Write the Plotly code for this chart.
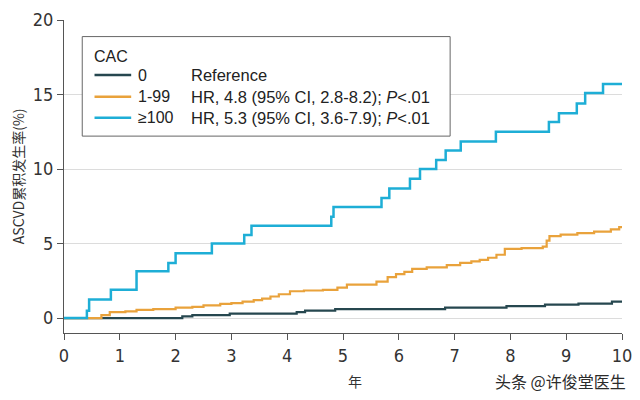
import plotly.graph_objects as go

# ---- data ----
groups = ["0", "1-99", "≥100"]
descriptions = ["Reference",
                "HR, 4.8 (95% CI, 2.8-8.2); <i>P</i>&lt;.01",
                "HR, 5.3 (95% CI, 3.6-7.9); <i>P</i>&lt;.01"]
colors = ["#26474f", "#e9a23b", "#1eaed6"]

t_cac0 = [0, 2.12, 2.3, 2.97, 4.17, 4.32, 4.86, 6.83, 7.93, 8.62, 9.22, 9.82, 10.0]
y_cac0 = [0, 0.12, 0.2, 0.3, 0.4, 0.5, 0.6, 0.7, 0.8, 0.9, 0.97, 1.1, 1.1]

t_cac1 = [0, 0.67, 0.82, 1.1, 1.3, 1.6, 2.0, 2.3, 2.5, 2.8, 3.0, 3.2, 3.4, 3.55, 3.7,
          3.85, 4.05, 4.3, 4.64, 4.9, 5.07, 5.6, 5.8, 5.95, 6.1, 6.24, 6.5, 6.86, 7.1,
          7.3, 7.45, 7.6, 7.75, 7.9, 8.2, 8.58, 8.65, 8.7, 8.9, 9.2, 9.5, 9.8, 9.95, 10.0]
y_cac1 = [0, 0.2, 0.4, 0.45, 0.55, 0.6, 0.7, 0.75, 0.85, 0.95, 1.0, 1.1, 1.2, 1.3, 1.45,
          1.6, 1.8, 1.85, 1.9, 2.05, 2.25, 2.45, 2.75, 2.95, 3.1, 3.3, 3.4, 3.55, 3.7,
          3.8, 3.9, 4.05, 4.25, 4.65, 4.7, 4.8, 5.2, 5.5, 5.6, 5.7, 5.8, 5.95, 6.1, 6.1]

t_cac100 = [0, 0.41, 0.45, 0.84, 1.3, 1.87, 2.0, 2.65, 3.23, 3.36, 4.79, 4.83, 5.69, 5.83,
            6.2, 6.38, 6.67, 6.84, 7.11, 7.74, 8.69, 8.87, 9.19, 9.34, 9.66, 10.0]
y_cac100 = [0, 0.5, 1.24, 1.91, 3.14, 3.7, 4.35, 5.0, 5.57, 6.2, 6.8, 7.45, 8.05, 8.7,
            9.35, 10.0, 10.6, 11.25, 11.85, 12.5, 13.15, 13.75, 14.4, 15.1, 15.7, 15.7]

x_ticks = list(range(0, 11))
y_ticks = [0, 5, 10, 15, 20]

series_t = [t_cac0, t_cac1, t_cac100]
series_y = [y_cac0, y_cac1, y_cac100]
widths = [2.2, 2.2, 2.5]

TICKFONT = "Liberation Sans Narrow, DejaVu Sans Condensed, Arial Narrow, sans-serif"
TEXTFONT = "Liberation Sans, Arial, sans-serif"
CJK = "Noto Sans CJK SC, sans-serif"

fig = go.Figure()
for name, t, y, c, w in zip(groups, series_t, series_y, colors, widths):
    fig.add_trace(go.Scatter(x=t, y=y, mode="lines", line=dict(color=c, width=w, shape="hv"),
                             name=name, showlegend=False))

# page body has an 8px margin, so the figure is 8px smaller and margins shifted
fig.update_layout(
    width=632, height=392,
    margin=dict(l=56, r=18, t=12, b=67, autoexpand=False),
    paper_bgcolor="white", plot_bgcolor="white",
    font=dict(family=TEXTFONT, size=16, color="#333333"),
)
fig.update_xaxes(range=[0, 10], tickvals=x_ticks, showgrid=False, zeroline=False,
                 showline=True, linecolor="#555555", linewidth=1,
                 ticks="outside", ticklen=6, tickcolor="#555555",
                 tickfont=dict(size=18, family=TICKFONT, color="#333333"))
fig.update_yaxes(range=[-1, 20], tickvals=y_ticks, showgrid=True, gridcolor="#dcdcdc", gridwidth=1,
                 zeroline=False, showline=True, linecolor="#555555", linewidth=1,
                 ticks="outside", ticklen=6, tickcolor="#555555",
                 tickfont=dict(size=18, family=TICKFONT, color="#333333"))

# legend box (paper coords relative to plot area)
fig.add_shape(type="rect", xref="paper", yref="paper", x0=0.0327, x1=0.692, y0=0.629, y1=0.947,
              line=dict(color="#666666", width=1), fillcolor="white", layer="above")
fig.add_annotation(xref="paper", yref="paper", x=0.0500, y=0.883, text="CAC", showarrow=False,
                   xanchor="left", yanchor="middle", font=dict(size=16, family=TEXTFONT, color="#222222"))
row_y = [0.824, 0.755, 0.688]
for g, d, c, ry in zip(groups, descriptions, colors, row_y):
    fig.add_shape(type="line", xref="paper", yref="paper", x0=0.0547, x1=0.1204, y0=ry, y1=ry,
                  line=dict(color=c, width=2.5), layer="above")
    fig.add_annotation(xref="paper", yref="paper", x=0.1290, y=ry, text=g, showarrow=False,
                       xanchor="left", yanchor="middle", font=dict(size=16, family=TEXTFONT, color="#222222"))
    fig.add_annotation(xref="paper", yref="paper", x=0.2240, y=ry, text=d, showarrow=False,
                       xanchor="left", yanchor="middle", font=dict(size=16.5, family=TEXTFONT, color="#222222"))

# axis titles
fig.add_annotation(xref="paper", yref="paper", x=-0.083, y=0.50, text="ASCVD累积发生率(%)",
                   textangle=-90, showarrow=False, xanchor="center", yanchor="middle",
                   font=dict(size=14, family=CJK, color="#333333"))
fig.add_annotation(xref="paper", yref="paper", x=0.521, y=(333 - 381) / 313, text="年",
                   showarrow=False, xanchor="center", yanchor="middle",
                   font=dict(size=14, family=CJK, color="#333333"))
# watermark
fig.add_annotation(xref="paper", yref="paper", x=(628 - 64) / 558, y=(333 - 381) / 313,
                   text="头条 @许俊堂医生", showarrow=False, xanchor="right", yanchor="middle",
                   font=dict(size=16, family=CJK, color="#2b2b2b"))

fig.write_html("out.html")
